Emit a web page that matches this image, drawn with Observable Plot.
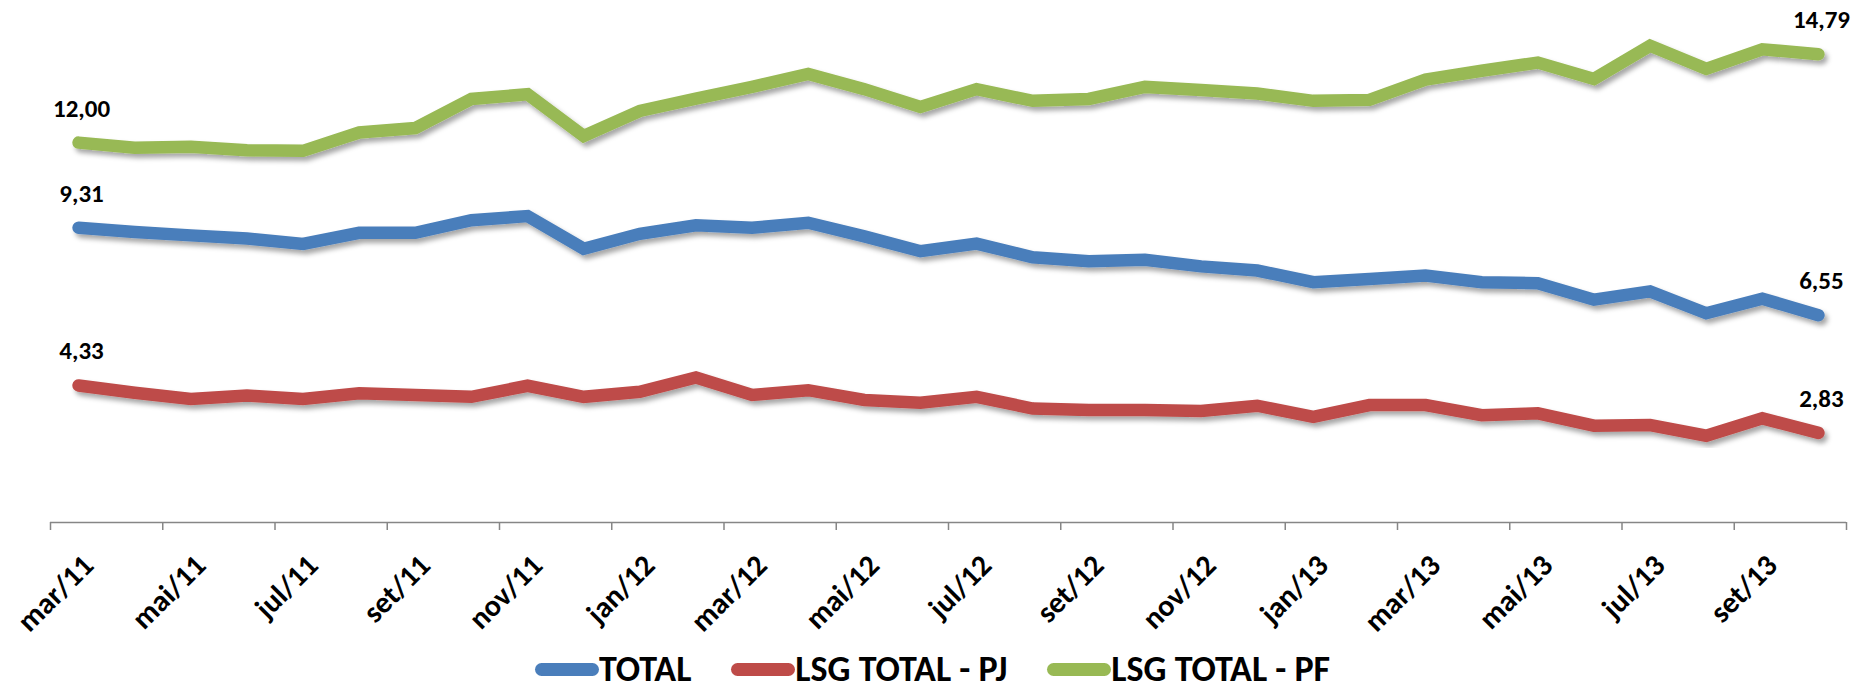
<!DOCTYPE html>
<html>
<head>
<meta charset="utf-8">
<script src="https://cdn.jsdelivr.net/npm/d3@7"></script>
<script src="https://cdn.jsdelivr.net/npm/@observablehq/plot@0.6"></script>
<style>
  html, body { margin: 0; padding: 0; background: #fff; overflow: hidden; }
  #chart svg { display: block; }
  .legend {
    height: 51px; overflow: hidden; box-sizing: border-box;
    display: flex; justify-content: center; padding-top: 11px; padding-left: 14px;
    font-family: Carlito, "Liberation Sans Narrow", "DejaVu Sans Condensed", sans-serif;
    font-weight: bold; font-size: 36px; line-height: 36px; white-space: nowrap; color: #000;
  }
  .legend .item { margin: 0 20px; }
  .legend .sw { display: inline-block; width: 64px; height: 13px; border-radius: 6.5px; vertical-align: 5px; }
</style>
</head>
<body>
<div id="chart"></div>
<div class="legend" id="legend"></div>
<script>
const months = ["mar/11","abr/11","mai/11","jun/11","jul/11","ago/11","set/11","out/11","nov/11","dez/11",
  "jan/12","fev/12","mar/12","abr/12","mai/12","jun/12","jul/12","ago/12","set/12","out/12","nov/12","dez/12",
  "jan/13","fev/13","mar/13","abr/13","mai/13","jun/13","jul/13","ago/13","set/13","out/13"];

const seriesNames = ["TOTAL", "LSG TOTAL - PJ", "LSG TOTAL - PF"];
const seriesColors = ["#4a7ebb", "#be4b48", "#98b954"];

const total = [9.31,9.18,9.07,8.97,8.80,9.15,9.15,9.55,9.68,8.65,9.12,9.39,9.31,9.47,9.04,8.57,8.81,8.38,8.25,8.30,8.09,7.96,7.59,7.69,7.80,7.59,7.56,7.04,7.30,6.61,7.07,6.55];
const totalPJ = [4.33,4.10,3.90,4.01,3.90,4.08,4.03,3.97,4.32,3.97,4.13,4.58,4.03,4.18,3.87,3.78,3.97,3.60,3.55,3.55,3.52,3.69,3.34,3.71,3.71,3.39,3.45,3.06,3.08,2.74,3.29,2.83];
const totalPF = [12.00,11.84,11.87,11.76,11.74,12.32,12.46,13.38,13.53,12.21,13.00,13.39,13.76,14.17,13.69,13.13,13.69,13.32,13.38,13.76,13.66,13.55,13.32,13.35,13.99,14.27,14.53,14.01,15.06,14.33,14.95,14.79];

const seriesValues = [total, totalPJ, totalPF];

// long table built from arrays
const rows = [];
seriesValues.forEach((vals, s) => vals.forEach((v, i) => rows.push({series: seriesNames[s], i, v})));
const endLabels = rows.filter(d => d.i === 0 || d.i === months.length - 1);

const labelIdx = months.map((m, i) => i).filter(i => i % 2 === 0);
const boundaries = d3.range(0, months.length + 1, 2).map(k => k - 0.5);

const font = 'Carlito, "Liberation Sans Narrow", "DejaVu Sans Condensed", sans-serif';

const chart = Plot.plot({
  width: 1851,
  height: 640,
  marginLeft: 50,
  marginRight: 5,
  marginTop: 15.5,
  marginBottom: 118,
  style: {fontFamily: font, background: "#fff", overflow: "visible"},
  x: {domain: [-0.5, months.length - 0.5], axis: null},
  y: {domain: [0, 16], axis: null},
  color: {domain: seriesNames, range: seriesColors},
  marks: [
    Plot.axisX({ticks: boundaries, tickSize: 8, tickFormat: () => "", stroke: "#868686", strokeWidth: 1.5, label: null}),
    Plot.ruleY([0], {x1: -0.5, x2: months.length - 0.5, stroke: "#868686", strokeWidth: 1.5}),
    Plot.line(rows, {x: "i", y: "v", z: "series", stroke: "series", strokeWidth: 12.5,
      strokeLinecap: "round", strokeLinejoin: "miter", strokeMiterlimit: 4}),
    Plot.text(endLabels, {x: "i", y: "v", text: d => d.v.toFixed(2).replace(".", ","), dx: 3, dy: -34,
      fontSize: 25, fontWeight: "bold", fill: "#000"}),
    Plot.text(labelIdx, {x: d => d, y: () => 0, text: d => months[d], rotate: -45, textAnchor: "end",
      dx: 10, dy: 38, fontSize: 30, fontWeight: "bold", fill: "#000"})
  ]
});

// drop shadow under lines
const svgns = "http://www.w3.org/2000/svg";
const defs = document.createElementNS(svgns, "defs");
defs.innerHTML = '<filter id="shadow" x="-5%" y="-20%" width="110%" height="140%">' +
  '<feDropShadow dx="3" dy="4" stdDeviation="2.5" flood-color="#000" flood-opacity="0.35"/></filter>';
chart.insertBefore(defs, chart.firstChild);
chart.querySelectorAll('g[aria-label="line"] path').forEach(p => p.setAttribute("filter", "url(#shadow)"));

document.getElementById("chart").appendChild(chart);

// legend
const legend = document.getElementById("legend");
seriesNames.forEach((name, s) => {
  const item = document.createElement("span");
  item.className = "item";
  const sw = document.createElement("span");
  sw.className = "sw";
  sw.style.background = seriesColors[s];
  item.appendChild(sw);
  item.appendChild(document.createTextNode(name));
  legend.appendChild(item);
});
</script>
</body>
</html>
